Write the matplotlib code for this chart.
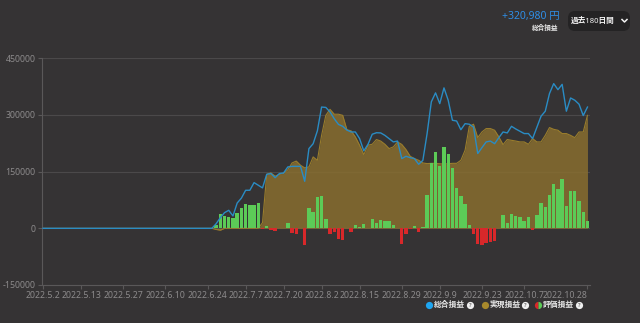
import numpy as np
import pandas as pd
import matplotlib
matplotlib.use("Agg")
import matplotlib.pyplot as plt
from matplotlib.patches import FancyBboxPatch

plt.rcParams['font.family'] = ['Noto Sans', 'Noto Sans CJK JP', 'DejaVu Sans']

# trading days for the last 180 days
dates = pd.bdate_range("2022-05-02", "2022-10-28")

# 総合損益 (total P&L, JPY)
total_pl = [0] * 41 + [
    12000, 28000, 41500, 47700, 32700, 67000, 80000, 100700, 100700, 121000,
    114000, 107000, 143000, 145000, 134000, 145000, 146600, 162500, 164000, 164000,
    164000, 124500, 211000, 224000, 258000, 321000, 320000, 308000, 290000, 275000,
    270000, 260000, 255000, 255000, 237500, 205000, 222500, 249000, 253000, 252500,
    246000, 237500, 228700, 231000, 184600, 190700, 187000, 184600, 169500, 180000,
    250800, 334700, 358500, 330000, 371700, 339000, 286000, 284000, 261000, 277000,
    275500, 268000, 198000, 213700, 228700, 231000, 224000, 240000, 255000, 252500,
    270000, 263000, 257000, 250800, 250800, 237500, 266700, 296700, 310000, 356700,
    383000, 367000, 381000, 310000, 345000, 339000, 328500, 298500, 320980,
]

# 実現損益 (realized P&L)
realized_pl = [0] * 41 + [
    -3000, -5000, 0, 0, 0, 0, 0, 0, 0, 0,
    0, 15000, 143000, 146600, 138000, 143000, 145000, 155000, 173000, 178000,
    167000, 160000, 162500, 189000, 180000, 246000, 299000, 315000, 302000, 302000,
    299000, 261000, 258000, 242000, 220000, 195000, 220000, 222500, 235000, 231000,
    222500, 211000, 215500, 228700, 222000, 208400, 190700, 184600, 180000, 173000,
    171300, 172000, 172000, 171000, 170000, 171000, 172000, 172000, 180000, 206600,
    270000, 275500, 240000, 255000, 264000, 264000, 259600, 242000, 221600, 235000,
    233000, 231000, 228700, 228700, 222500, 237500, 228700, 228700, 246000, 266700,
    262000, 259600, 250800, 250800, 246000, 240000, 255000, 255000, 299000,
]

# 評価損益 (unrealized P&L)
unrealized_pl = [0] * 41 + [
    10000, 37000, 33600, 30000, 26500, 40600, 53000, 65400, 61000, 61000,
    68000, -3000, 5000, -4000, -7000, 1000, 2000, 14000, -12000, -16000,
    0, -45000, 55000, 42000, 82000, 86000, 26000, -14000, -10000, -29000,
    -31000, 0, -10000, 10000, 4000, 12000, 2000, 26000, 13000, 21000,
    19500, 20000, 10000, 0, -41000, -15000, -1000, 6000, -10000, 4000,
    87500, 173000, 203000, 165000, 215000, 197000, 160000, 108000, 86000, 64000,
    9000, -14000, -40600, -45000, -38000, -36000, -34000, 2000, 36000, 14000,
    39000, 32700, 30000, 19400, 31000, -5000, 35000, 66000, 56500, 87500,
    118000, 105000, 130000, 59000, 100000, 100000, 71500, 42400, 19400,
]

tick_dates = ["2022-05-02", "2022-05-13", "2022-05-27", "2022-06-10", "2022-06-24",
              "2022-07-07", "2022-07-20", "2022-08-02", "2022-08-15", "2022-08-29",
              "2022-09-09", "2022-09-23", "2022-10-07", "2022-10-28"]
y_ticks = [-150000, 0, 150000, 300000, 450000]

BG = '#353334'
GRID = '#4b494a'
AXIS_TXT = '#8c8a8b'
BLUE = '#2a8cc4'
GOLD_FILL = '#8b702f'
GOLD_EDGE = '#9a7d2c'
GREEN = '#5ccb57'
RED = '#d8282a'

x = np.arange(len(dates))
total = np.array(total_pl)
realized = np.array(realized_pl)
unrealized = np.array(unrealized_pl)

fig = plt.figure(figsize=(6.4, 3.23), dpi=100, facecolor=BG)
ax = fig.add_axes([42 / 640, 1 - 285 / 323, 548 / 640, (285 - 58.3) / 323])
ax.set_facecolor(BG)
ax.set_axisbelow(True)

ax.fill_between(x, 0, realized, color=GOLD_FILL, alpha=0.82, lw=0, zorder=1)
ax.plot(x, realized, color=GOLD_EDGE, lw=0.8, zorder=1.5)
bar_colors = [GREEN if v >= 0 else RED for v in unrealized]
ax.bar(x, unrealized, width=0.8, color=bar_colors, lw=0, zorder=2)
ax.plot(x, total, color=BLUE, lw=1.0, zorder=3)

ax.set_xlim(-0.25, len(x) - 0.4)
ax.set_ylim(-150000, 450000)
ax.set_yticks(y_ticks)
ax.set_yticklabels([str(v) for v in y_ticks])
ax.grid(axis='y', color=GRID, lw=0.8)

tick_pos = [dates.get_loc(pd.Timestamp(d)) for d in tick_dates]
ax.set_xticks(tick_pos)
ax.set_xticklabels([f"{pd.Timestamp(d).year}.{pd.Timestamp(d).month}.{pd.Timestamp(d).day}"
                    for d in tick_dates])
ax.get_xticklabels()[-1].set_horizontalalignment('right')

for side in ['top', 'right']:
    ax.spines[side].set_visible(False)
for side in ['left', 'bottom']:
    ax.spines[side].set_color('#5a5859')
    ax.spines[side].set_linewidth(0.8)
ax.tick_params(colors='#5a5859', labelcolor=AXIS_TXT, labelsize=6.3, length=3, width=0.8, pad=1.5)

# header and legend drawn in pixel coordinates
ov = fig.add_axes([0, 0, 1, 1])
ov.set_xlim(0, 640)
ov.set_ylim(323, 0)
ov.axis('off')
ov.patch.set_alpha(0)

ov.text(560, 17, '+320,980 円', color='#2f8ee6', fontsize=7.5, ha='right', va='center')
ov.text(558, 28, '総合損益', color='#e6e6e6', fontsize=4.8, ha='right', va='center', fontweight='bold')
ov.add_patch(FancyBboxPatch((568, 11), 62, 20, boxstyle='round,pad=0,rounding_size=7',
                            fc='#242324', ec='none'))
ov.text(571, 21, '過去180日間', color='#f2f2f2', fontsize=5.5, ha='left', va='center', fontweight='bold')
ov.plot([622, 624.5, 627], [19.5, 22, 19.5], color='#f2f2f2', lw=1.1)

legend_items = [
    (429, '総合損益', 470),
    (485, '実現損益', 525),
    (538, '評価損益', 579),
]
ov.plot(429, 305, 'o', ms=5.2, color='#1ea5f0', mec='none')
ov.plot(485, 305, 'o', ms=5.2, color='#a8892c', mec='none')
ov.plot(538, 305, 'o', ms=5.2, fillstyle='left', color=RED, markerfacecoloralt=GREEN, mec='none')
for dot_x, label, q_x in legend_items:
    ov.text(dot_x + 5, 305, label, color='#e6e6e6', fontsize=5.6, ha='left', va='center', fontweight='bold')
    ov.plot(q_x, 305, 'o', ms=5.2, color='#f0f0f0', mec='none')
    ov.text(q_x, 305.3, '?', color='#353334', fontsize=4.2, ha='center', va='center', fontweight='bold')

fig.savefig('out.png', dpi=100, facecolor=BG)
